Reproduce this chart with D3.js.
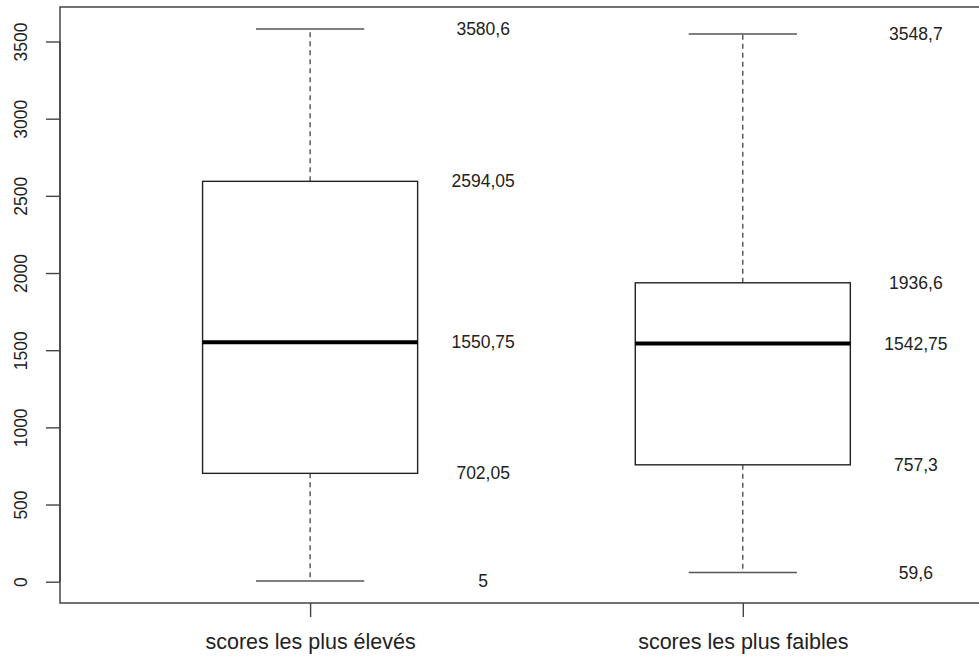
<!DOCTYPE html>
<html>
<head>
<meta charset="utf-8">
<script src="https://cdn.jsdelivr.net/npm/d3@7"></script>
<style>
  html, body { margin: 0; padding: 0; background: #fff; }
  svg { display: block; }
  text { font-family: "Liberation Sans", Arial, sans-serif; fill: #222; }
</style>
</head>
<body>
<svg id="chart" width="979" height="659"></svg>
<script>
const categories = ["scores les plus élevés", "scores les plus faibles"];
const whiskerHigh = [3580.6, 3548.7];
const upperQuartile = [2594.05, 1936.6];
const medianValues = [1550.75, 1542.75];
const lowerQuartile = [702.05, 757.3];
const whiskerLow = [5, 59.6];
const yTicks = [0, 500, 1000, 1500, 2000, 2500, 3000, 3500];

const svg = d3.select("#chart");

const x = d3.scaleLinear().domain([0.422, 2.6]).range([60, 60 + 2.178 * 432.7]);
const y = d3.scaleLinear().domain([-138, 3723.6]).range([603, 7]);

const boxHalf = 0.2485, capHalf = 0.125, labelOffset = 0.4;
const fmt = v => String(v).replace(".", ",");

const data = categories.map((c, i) => ({
  c, pos: i + 1,
  hi: whiskerHigh[i], q3: upperQuartile[i], med: medianValues[i],
  q1: lowerQuartile[i], lo: whiskerLow[i]
}));

const g = svg.append("g");

// whiskers (dashed)
g.selectAll(".wh-up").data(data).enter().append("line")
  .attr("x1", d => x(d.pos)).attr("x2", d => x(d.pos))
  .attr("y1", d => y(d.q3)).attr("y2", d => y(d.hi))
  .attr("stroke", "#333").attr("stroke-width", 1.2).attr("stroke-dasharray", "5,4");
g.selectAll(".wh-lo").data(data).enter().append("line")
  .attr("x1", d => x(d.pos)).attr("x2", d => x(d.pos))
  .attr("y1", d => y(d.q1)).attr("y2", d => y(d.lo))
  .attr("stroke", "#333").attr("stroke-width", 1.2).attr("stroke-dasharray", "5,4");

// caps
["hi", "lo"].forEach(k => {
  g.selectAll(".cap-" + k).data(data).enter().append("line")
    .attr("x1", d => x(d.pos - capHalf)).attr("x2", d => x(d.pos + capHalf))
    .attr("y1", d => y(d[k])).attr("y2", d => y(d[k]))
    .attr("stroke", "#555").attr("stroke-width", 1.4);
});

// boxes
g.selectAll(".box").data(data).enter().append("rect")
  .attr("x", d => x(d.pos - boxHalf))
  .attr("width", d => x(d.pos + boxHalf) - x(d.pos - boxHalf))
  .attr("y", d => y(d.q3))
  .attr("height", d => y(d.q1) - y(d.q3))
  .attr("fill", "#fff").attr("stroke", "#222").attr("stroke-width", 1.4);

// medians
g.selectAll(".med").data(data).enter().append("line")
  .attr("x1", d => x(d.pos - boxHalf)).attr("x2", d => x(d.pos + boxHalf))
  .attr("y1", d => y(d.med)).attr("y2", d => y(d.med))
  .attr("stroke", "#000").attr("stroke-width", 4);

// value labels
data.forEach(d => {
  ["hi", "q3", "med", "q1", "lo"].forEach(k => {
    g.append("text")
      .attr("x", x(d.pos + labelOffset))
      .attr("y", y(d[k]))
      .attr("text-anchor", "middle")
      .attr("dominant-baseline", "central")
      .style("font-size", "17.5px")
      .text(fmt(d[k]));
  });
});

// frame
svg.append("rect")
  .attr("x", 60).attr("y", 7)
  .attr("width", x.range()[1] - 60).attr("height", 596)
  .attr("fill", "none").attr("stroke", "#444").attr("stroke-width", 1.5);

// y axis
const yAxis = svg.append("g").attr("transform", "translate(60,0)")
  .call(d3.axisLeft(y).tickValues(yTicks).tickSize(14).tickFormat(d3.format("d")));
yAxis.attr("font-size", null).attr("font-family", null);
yAxis.select(".domain").attr("d", `M0,${y(0)}V${y(3500)}`).attr("stroke", "#444").attr("stroke-width", 1.5);
yAxis.selectAll(".tick line").attr("stroke", "#444").attr("stroke-width", 1.4);
yAxis.selectAll(".tick text")
  .attr("transform", "rotate(-90)")
  .attr("x", 0).attr("y", -39)
  .attr("dy", "0.35em")
  .attr("text-anchor", "middle")
  .style("font-size", "17.5px")
  .style("font-family", "'Liberation Sans', Arial, sans-serif")
  .attr("fill", "#222");

// x axis
const xAxis = svg.append("g").attr("transform", "translate(0,603)")
  .call(d3.axisBottom(x).tickValues(data.map(d => d.pos)).tickSize(14)
    .tickFormat((v, i) => categories[i]));
xAxis.attr("font-size", null).attr("font-family", null);
xAxis.select(".domain").remove();
xAxis.selectAll(".tick line").attr("stroke", "#444").attr("stroke-width", 1.4);
xAxis.selectAll(".tick text")
  .attr("y", 38).attr("dy", "0.35em")
  .style("font-size", "21.5px")
  .style("font-family", "'Liberation Sans', Arial, sans-serif")
  .attr("fill", "#222");
</script>
</body>
</html>
